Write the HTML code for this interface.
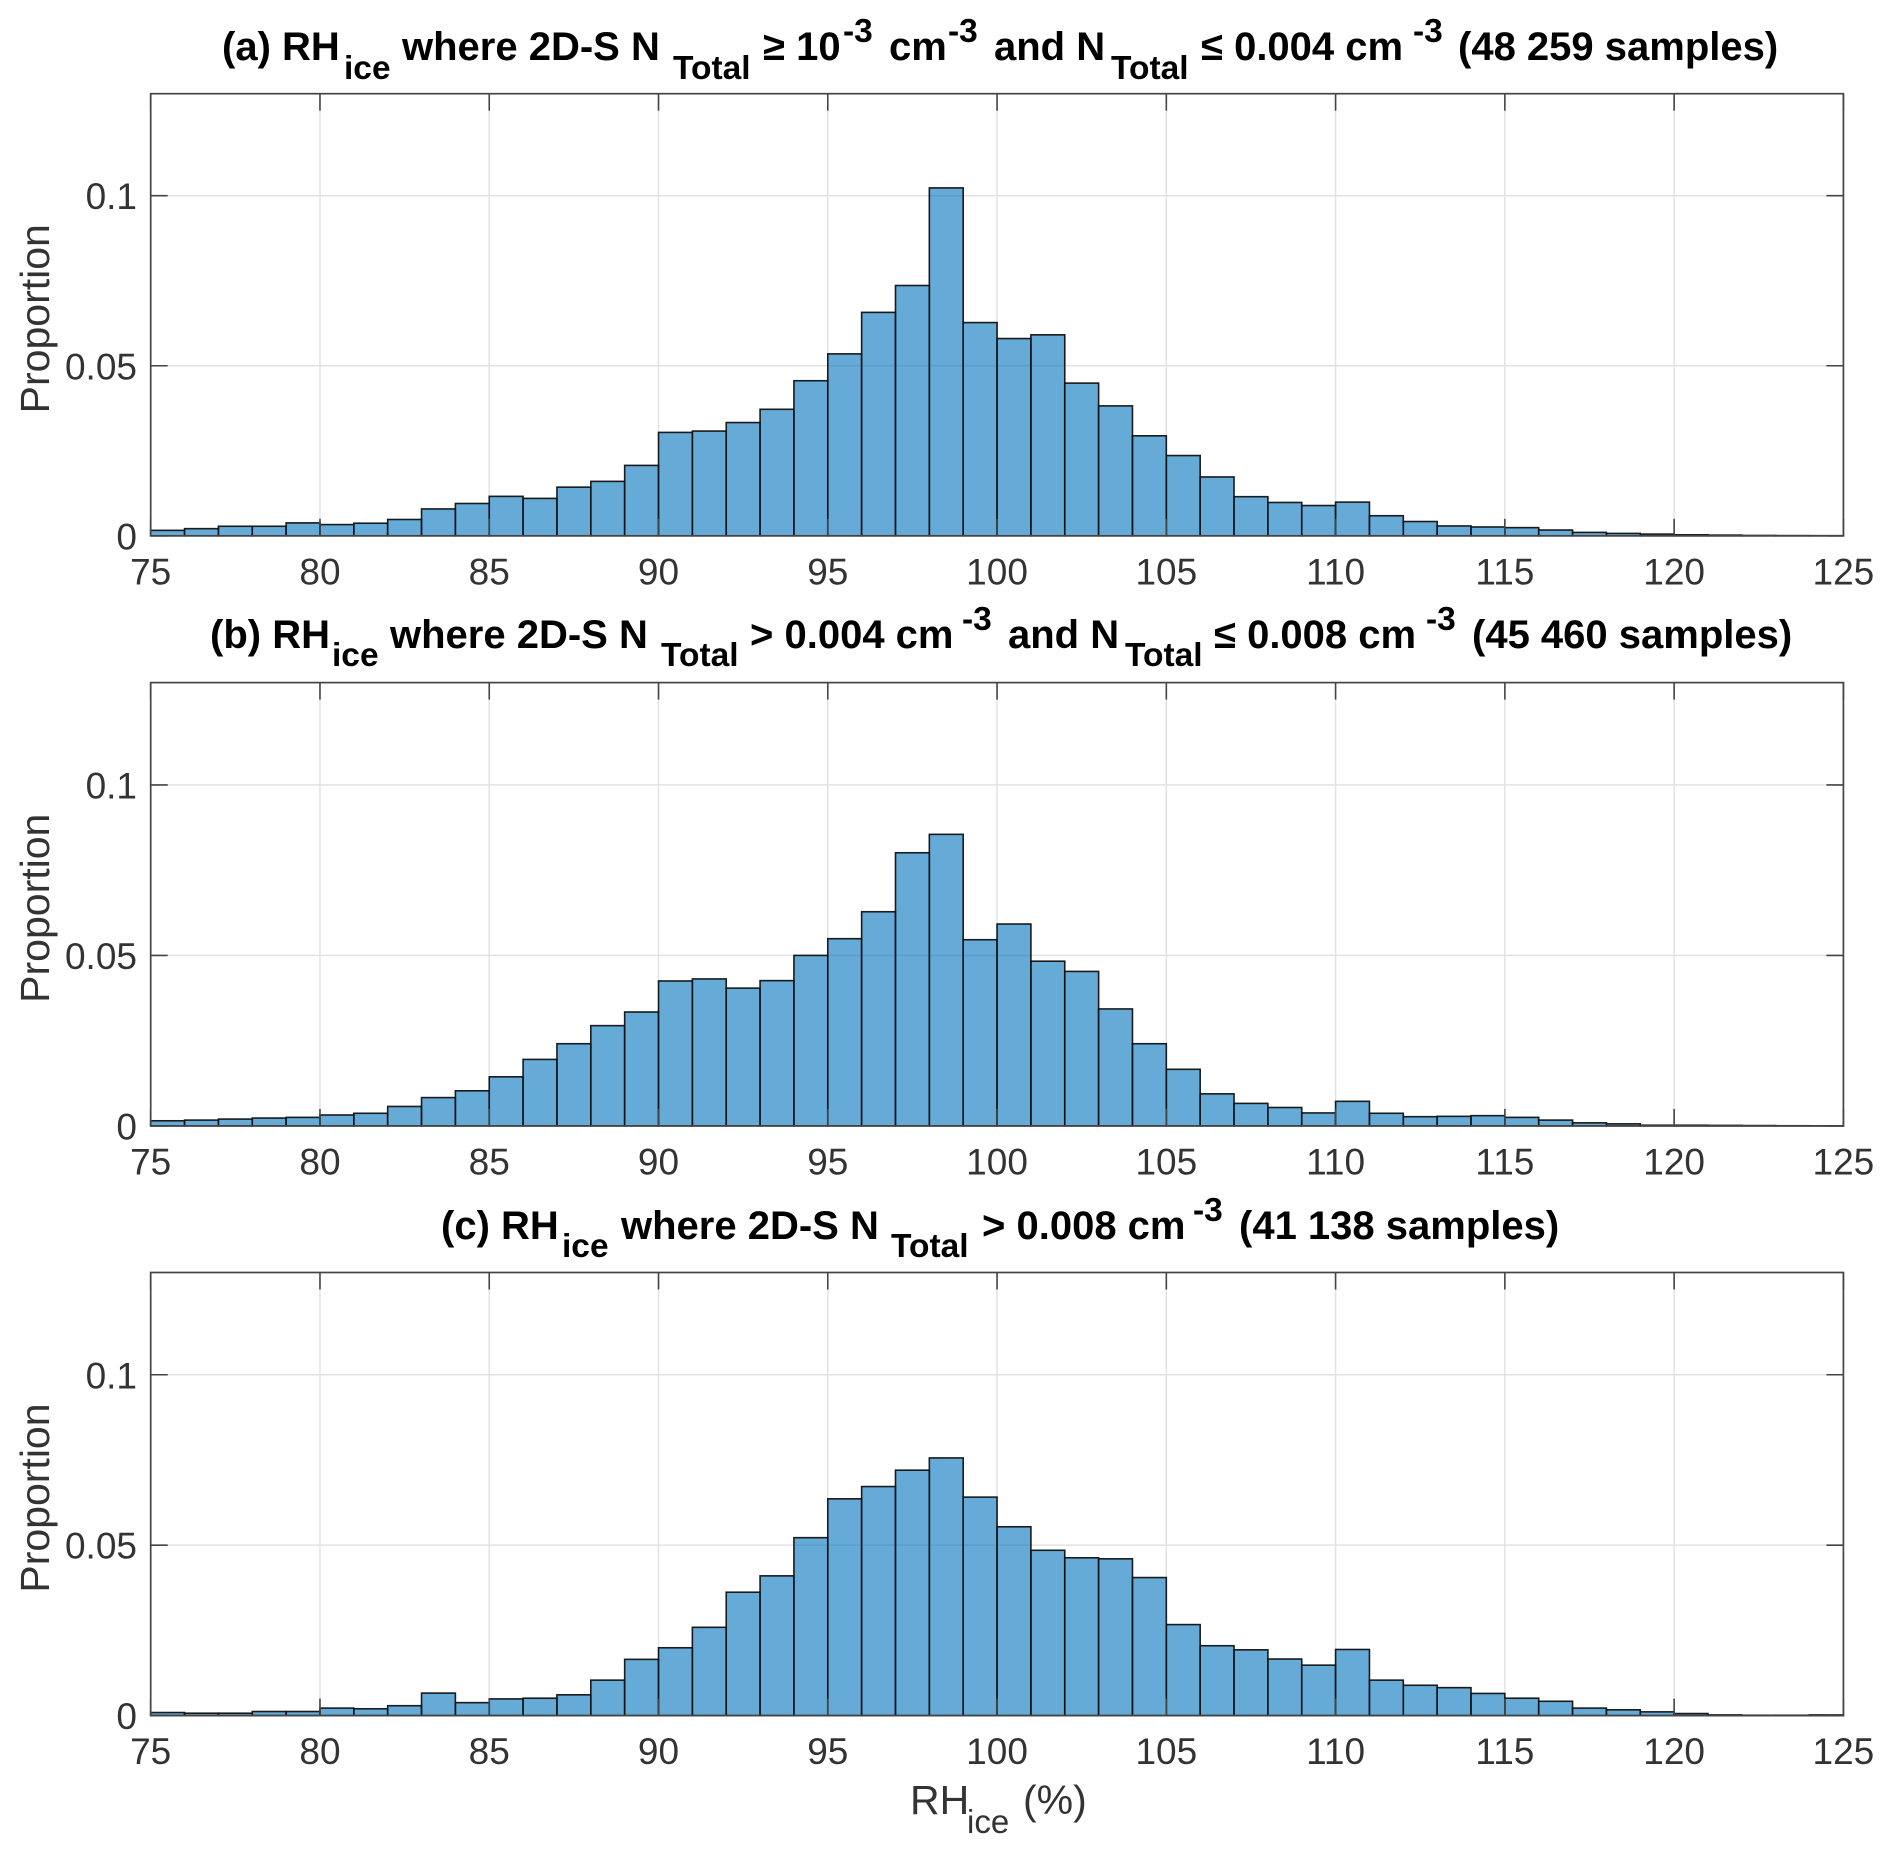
<!DOCTYPE html>
<html lang="en">
<head>
<meta charset="utf-8">
<title>RHice histograms</title>
<style>
  html, body { margin: 0; padding: 0; background: #fff; }
  svg { display: block; }
  text { font-family: "Liberation Sans", Arial, sans-serif; }
  .title { font-size: 40px; font-weight: 700; fill: #000; }
  .title .s { font-size: 33.5px; }
  .tick { font-size: 37px; fill: #333; }
  .label { font-size: 41px; fill: #333; }
  .label .s { font-size: 33px; }
</style>
</head>
<body>
<svg id="chart" xmlns="http://www.w3.org/2000/svg" width="1892" height="1853" viewBox="0 0 1892 1853">
  <rect width="1892" height="1853" fill="#fff"/>
  <g id="panels"></g>

  <text class="title">
    <tspan x="222" y="60">(a) RH</tspan><tspan class="s" x="344" y="79">ice</tspan><tspan x="402" y="60">where 2D-S N</tspan><tspan class="s" x="673" y="79">Total</tspan><tspan x="763" y="60">≥ 10</tspan><tspan class="s" x="843" y="42">-3</tspan><tspan x="889" y="60">cm</tspan><tspan class="s" x="948" y="42">-3</tspan><tspan x="994" y="60">and N</tspan><tspan class="s" x="1111" y="79">Total</tspan><tspan x="1201" y="60">≤ 0.004 cm</tspan><tspan class="s" x="1413" y="42">-3</tspan><tspan x="1458" y="60">(48 259 samples)</tspan>
  </text>
  <text class="title">
    <tspan x="210" y="648">(b) RH</tspan><tspan class="s" x="332" y="666">ice</tspan><tspan x="390" y="648">where 2D-S N</tspan><tspan class="s" x="661" y="666">Total</tspan><tspan x="750" y="648">&gt; 0.004 cm</tspan><tspan class="s" x="962" y="630">-3</tspan><tspan x="1008" y="648">and N</tspan><tspan class="s" x="1125" y="666">Total</tspan><tspan x="1214" y="648">≤ 0.008 cm</tspan><tspan class="s" x="1426" y="630">-3</tspan><tspan x="1472" y="648">(45 460 samples)</tspan>
  </text>
  <text class="title">
    <tspan x="441" y="1239">(c) RH</tspan><tspan class="s" x="562" y="1257">ice</tspan><tspan x="621" y="1239">where 2D-S N</tspan><tspan class="s" x="891" y="1257">Total</tspan><tspan x="982" y="1239">&gt; 0.008 cm</tspan><tspan class="s" x="1193" y="1221">-3</tspan><tspan x="1239" y="1239">(41 138 samples)</tspan>
  </text>

  <text class="label">
    <tspan x="910" y="1814">RH</tspan><tspan class="s" x="967" y="1833">ice</tspan><tspan x="1023" y="1814">(%)</tspan>
  </text>
</svg>

<script>
const binLowerEdges = [75,76,77,78,79,80,81,82,83,84,85,86,87,88,89,90,91,92,93,94,95,96,97,98,99,100,101,102,103,104,105,106,107,108,109,110,111,112,113,114,115,116,117,118,119,120,121,122,123,124];
const binWidth = 1;
const xTickValues = [75,80,85,90,95,100,105,110,115,120,125];
const yTickValues = [0,0.05,0.1];
const yTickLabels = ['0','0.05','0.1'];
const proportionA = [0.0016,0.0021,0.0028,0.0028,0.0038,0.0033,0.0037,0.0048,0.0079,0.0095,0.0116,0.011,0.0143,0.016,0.0207,0.0304,0.0308,0.0333,0.0372,0.0456,0.0535,0.0657,0.0736,0.1023,0.0627,0.058,0.0591,0.0449,0.0382,0.0294,0.0236,0.0173,0.0115,0.0098,0.0089,0.0099,0.0059,0.0042,0.0029,0.0026,0.0024,0.0017,0.001,0.0007,0.0005,0.0003,0.0002,0.0001,0.00005,0.00003];
const proportionB = [0.0015,0.0017,0.002,0.0023,0.0025,0.0032,0.0037,0.0057,0.0083,0.0103,0.0144,0.0195,0.0241,0.0294,0.0334,0.0425,0.0431,0.0404,0.0426,0.05,0.0549,0.0628,0.0801,0.0855,0.0546,0.0592,0.0483,0.0453,0.0343,0.0241,0.0166,0.0094,0.0066,0.0054,0.0038,0.0072,0.0037,0.0027,0.0028,0.003,0.0025,0.0017,0.0009,0.0006,0.0002,0.0002,0.00015,0.0001,0.00005,0.00003];
const proportionC = [0.0009,0.0007,0.0007,0.0012,0.0012,0.0022,0.002,0.0029,0.0066,0.0038,0.0049,0.0051,0.0061,0.0104,0.0165,0.0199,0.0259,0.0362,0.041,0.0522,0.0636,0.0672,0.072,0.0756,0.0641,0.0554,0.0485,0.0463,0.046,0.0405,0.0267,0.0205,0.0193,0.0166,0.0148,0.0194,0.0104,0.0089,0.0082,0.0065,0.0051,0.0042,0.0022,0.0017,0.0011,0.0006,0.0002,0.0001,0.0001,0.0002];

const NS = 'http://www.w3.org/2000/svg';
const plotLeft = 150.7, plotRight = 1843.4;
const xMin = 75, xMax = 125, yMin = 0, yMax = 0.13;
const tickLength = 17;
const axisColor = '#454545';

function make(tag, attrs, parent) {
  const node = document.createElementNS(NS, tag);
  for (const k in attrs) node.setAttribute(k, attrs[k]);
  parent.appendChild(node);
  return node;
}

function drawPanel(root, top, bottom, values, letter) {
  const xScale = v => plotLeft + (v - xMin) / (xMax - xMin) * (plotRight - plotLeft);
  const yScale = v => bottom - (v - yMin) / (yMax - yMin) * (bottom - top);

  const g = make('g', {}, root);
  
  

  // grid
  xTickValues.slice(1, -1).forEach(v => {
    const line = make('line', {x1: xScale(v), x2: xScale(v), y1: top, y2: bottom, stroke: '#e2e2e2', 'stroke-width': 1.5}, g);
    
    
  });
  yTickValues.slice(1).forEach(v => {
    const line = make('line', {x1: plotLeft, x2: plotRight, y1: yScale(v), y2: yScale(v), stroke: '#e2e2e2', 'stroke-width': 1.5}, g);
    
    
  });

  // bars
  values.forEach((v, i) => {
    const x0 = xScale(binLowerEdges[i]);
    const x1 = xScale(binLowerEdges[i] + binWidth);
    const bar = make('rect', {x: x0, y: yScale(v), width: x1 - x0, height: bottom - yScale(v), fill: 'rgb(0,114,189)', 'fill-opacity': 0.6, stroke: '#111', 'stroke-opacity': 0.95, 'stroke-width': 1.6}, g);
    
    
  });

  // axes box
  const box = make('rect', {x: plotLeft, y: top, width: plotRight - plotLeft, height: bottom - top, fill: 'none', stroke: axisColor, 'stroke-width': 1.7}, g);
  
  

  // x ticks and labels
  xTickValues.forEach(v => {
    const x = xScale(v);
    const t1 = make('line', {x1: x, x2: x, y1: bottom, y2: bottom - tickLength, stroke: axisColor, 'stroke-width': 1.6}, g);
    
    
    const t2 = make('line', {x1: x, x2: x, y1: top, y2: top + tickLength, stroke: axisColor, 'stroke-width': 1.6}, g);
    
    
    const lab = make('text', {x: x, y: bottom + 48.5, 'text-anchor': 'middle', class: 'tick'}, g);
    lab.textContent = String(v);
    
    
  });

  // y ticks and labels
  yTickValues.forEach((v, i) => {
    const y = yScale(v);
    const t1 = make('line', {x1: plotLeft, x2: plotLeft + tickLength, y1: y, y2: y, stroke: axisColor, 'stroke-width': 1.6}, g);
    
    
    const t2 = make('line', {x1: plotRight, x2: plotRight - tickLength, y1: y, y2: y, stroke: axisColor, 'stroke-width': 1.6}, g);
    
    
    const lab = make('text', {x: 137, y: y + 13.5, 'text-anchor': 'end', class: 'tick'}, g);
    lab.textContent = yTickLabels[i];
    
    
  });

  // y axis title
  const cy = (top + bottom) / 2 + 4;
  const yt = make('text', {x: 0, y: 0, 'text-anchor': 'middle', class: 'label', transform: 'translate(49 ' + cy + ') rotate(-90)'}, g);
  yt.textContent = 'Proportion';
  
  
}

const panelsRoot = document.getElementById('panels');
drawPanel(panelsRoot, 93.7, 535.8, proportionA, 'a');
drawPanel(panelsRoot, 682.6, 1125.9, proportionB, 'b');
drawPanel(panelsRoot, 1272.5, 1715.6, proportionC, 'c');
</script>
</body>
</html>
